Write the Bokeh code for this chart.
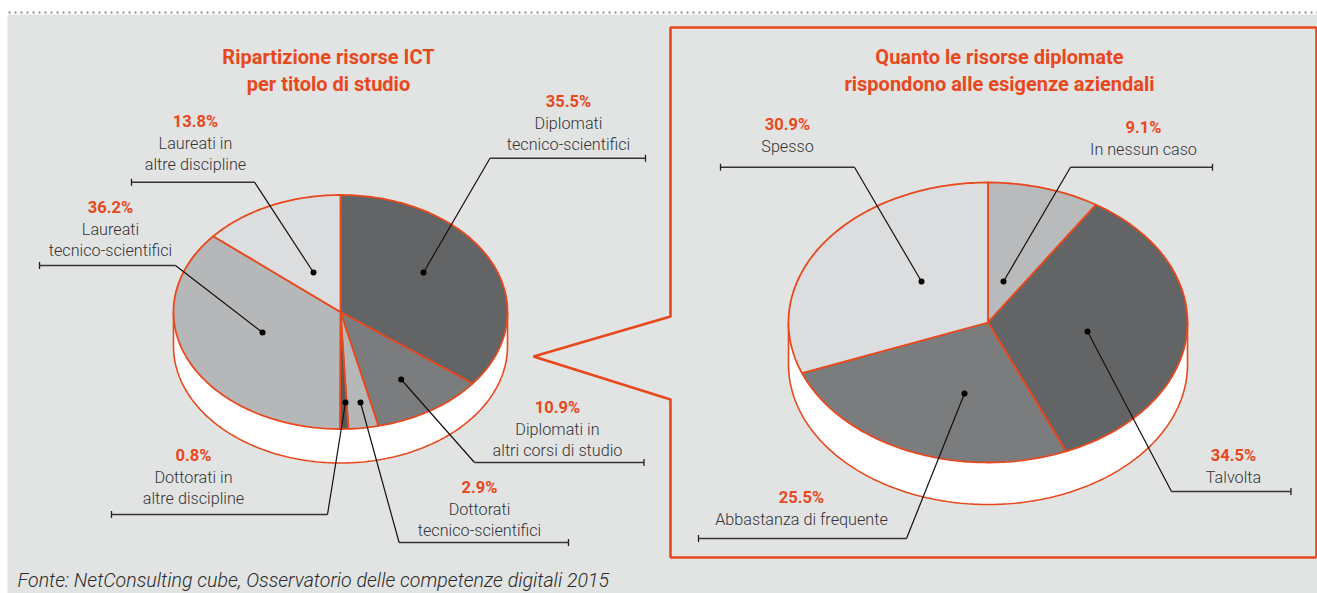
import numpy as np
from bokeh.plotting import figure
from bokeh.models import Range1d
from bokeh.core.properties import value
from bokeh.embed import file_html
from bokeh.resources import INLINE

# ---------- data ----------
left_title = ["Ripartizione risorse ICT", "per titolo di studio"]
left_shares = [35.5, 10.9, 2.9, 0.8, 36.2, 13.8]
left_pct = ["35.5%", "10.9%", "2.9%", "0.8%", "36.2%", "13.8%"]
left_names = [["Diplomati", "tecnico-scientifici"], ["Diplomati in", "altri corsi di studio"],
              ["Dottorati", "tecnico-scientifici"], ["Dottorati in", "altre discipline"],
              ["Laureati", "tecnico-scientifici"], ["Laureati in", "altre discipline"]]
left_colors = ["#636466", "#7b7c7e", "#b6b7b9", "#58595b", "#b6b7b9", "#dcddde"]

right_title = ["Quanto le risorse diplomate", "rispondono alle esigenze aziendali"]
right_shares = [9.1, 34.5, 25.5, 30.9]
right_pct = ["9.1%", "34.5%", "25.5%", "30.9%"]
right_names = [["In nessun caso"], ["Talvolta"], ["Abbastanza di frequente"], ["Spesso"]]
right_colors = ["#b9babc", "#636466", "#7b7c7e", "#dcddde"]

source_note = "Fonte: NetConsulting cube, Osservatorio delle competenze digitali 2015"

# ---------- layout (page pixels) ----------
ORANGE, BG = "#e8481c", "#e2e4e3"
SANS = "Roboto"
LIGHT = "Roboto Light"
left_pie = dict(cx=340, cy=311.5, rx=167, ry=117, depth=34)
right_pie = dict(cx=987.5, cy=322, rx=199.5, ry=140, depth=42)
# label: centre x, y of percent row
left_label_pos = [(568, 101), (557, 407), (479, 487), (193, 455), (110, 207), (195, 121)]
right_label_pos = [(1143, 127), (1233, 455), (801, 497), (787, 124)]
# leader: tick end x, elbow x, elbow y, dot x, dot y
left_leaders = [(645, 489.5, 157.7, 423, 272), (643.5, 474, 462, 400.7, 379),
                (568, 398.6, 542, 360, 402), (111, 327, 514, 345, 402),
                (39, 175, 265, 262, 332), (131, 254, 181.7, 313, 272)]
right_leaders = [(1212, 1070, 166.7, 1003, 281), (1290.5, 1171, 491, 1087, 331),
                 (698, 906, 538, 964, 393), (720, 854, 166.7, 921, 281)]

W, H = 1317, 593
p = figure(width=W, height=H, x_range=Range1d(0, W), y_range=Range1d(H, 0),
           output_backend="svg", toolbar_location=None, min_border=0)
p.axis.visible = False
p.grid.visible = False
p.outline_line_color = None
p.background_fill_color = "white"
p.border_fill_color = "white"

# panel and dotted rule
p.quad(left=7, right=1320, top=14, bottom=600, fill_color=BG, line_color=None)
p.line([8, 1320], [12, 12], line_color="#8f9190", line_width=2, line_dash="2 4")

# callout frame
p.line([1316, 670, 670, 533, 670, 670, 1316], [27, 27, 316, 356, 399, 557, 557],
       line_color=ORANGE, line_width=2.6)
p.line([1316, 1316], [27, 557], line_color=ORANGE, line_width=2.6)


def draw_pie(shares, colors, g):
    cx, cy, rx, ry, d = g["cx"], g["cy"], g["rx"], g["ry"], g["depth"]
    t = np.radians(np.linspace(90, 270, 200))
    sx = list(cx + rx * np.sin(t)) + [cx - rx, cx + rx]
    sy = list(cy - ry * np.cos(t) + d) + [cy, cy]
    p.patch(sx, sy, fill_color="white", line_color=ORANGE, line_width=1.6)
    edges = np.cumsum([0] + list(shares)) / sum(shares) * 2 * np.pi
    for a, b, col in zip(edges[:-1], edges[1:], colors):
        n = max(4, int((b - a) * 60))
        th = np.linspace(a, b, n)
        xs = [cx] + list(cx + rx * np.sin(th))
        ys = [cy] + list(cy - ry * np.cos(th))
        p.patch(xs, ys, fill_color=col, line_color=ORANGE, line_width=1.8)


def draw_labels(pct, names, pos, leaders):
    for (tx, ex, ey, dx, dy) in leaders:
        p.line([tx, ex], [ey, ey], line_color="#333333", line_width=1.5)
        p.line([ex, dx], [ey, dy], line_color="#111111", line_width=1.2)
        p.line([tx, tx], [ey - 3.5, ey + 3.5], line_color="#222222", line_width=1.3)
        p.scatter([dx], [dy], size=6, fill_color="black", line_color=None)
    for txt, rows, (x, y) in zip(pct, names, pos):
        p.text([x], [y], text=[txt], text_font=value(SANS), text_font_style="bold",
               text_font_size="16.5px", text_color=ORANGE, text_align="center", text_baseline="middle")
        for i, r in enumerate(rows):
            p.text([x], [y + 21.5 * (i + 1)], text=[r], text_font=value(LIGHT),
                   text_font_size="16.2px", text_color="#333335", text_align="center", text_baseline="middle")


draw_pie(left_shares, left_colors, left_pie)
draw_pie(right_shares, right_colors, right_pie)
draw_labels(left_pct, left_names, left_label_pos, left_leaders)
draw_labels(right_pct, right_names, right_label_pos, right_leaders)

for title, x in ((left_title, 328), (right_title, 999)):
    for i, r in enumerate(title):
        p.text([x], [56.5 + 27 * i], text=[r], text_font=value(SANS), text_font_style="bold",
               text_font_size="20px", text_color=ORANGE, text_align="center", text_baseline="middle")

p.text([17], [580], text=[source_note], text_font=value(LIGHT), text_font_style="italic",
       text_font_size="19.6px", text_color="#2c2c2c", text_align="left", text_baseline="middle")

open("out.html", "w").write(file_html(p, INLINE))
